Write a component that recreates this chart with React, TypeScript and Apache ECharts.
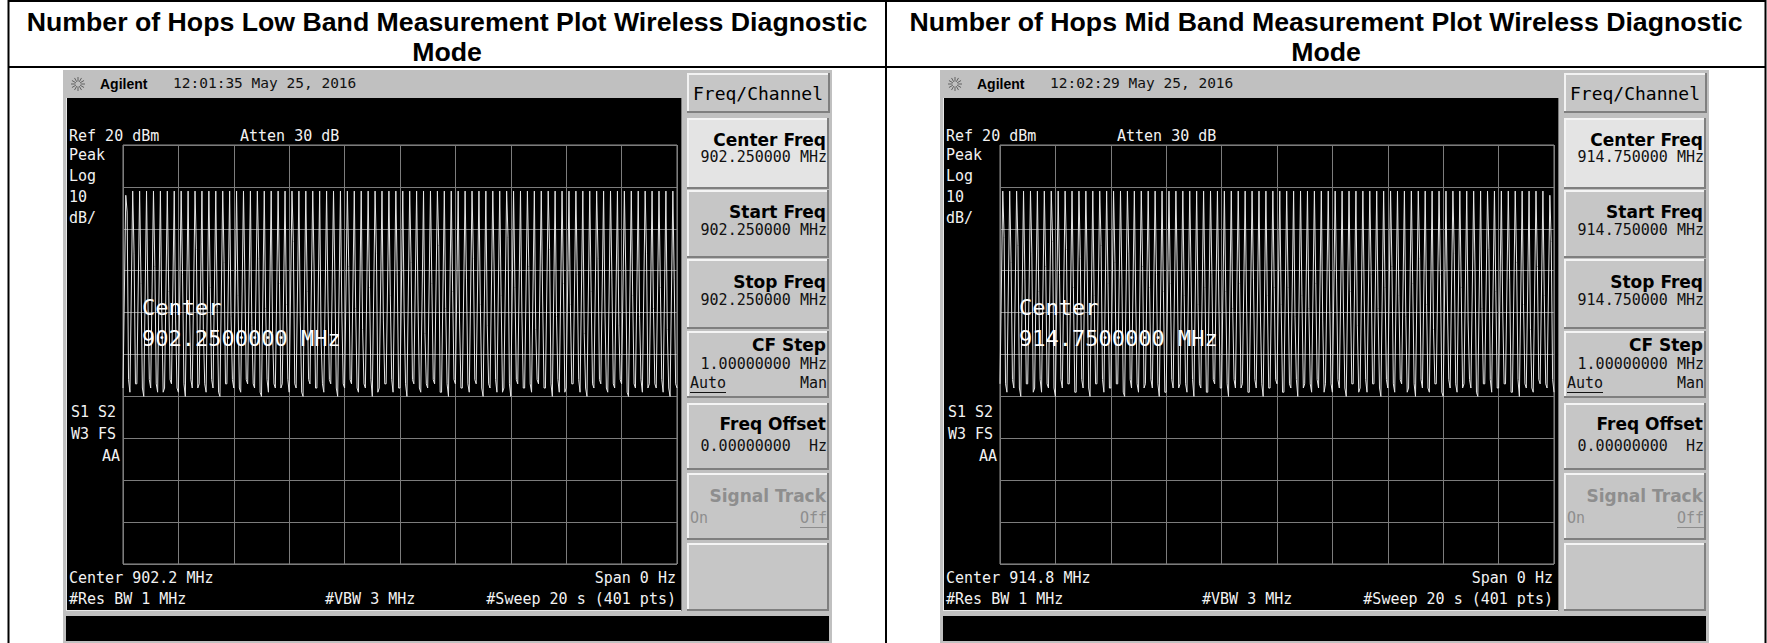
import React, { useEffect, useRef } from "react";
import * as echarts from "echarts";

const W = 1767;
const H = 643;

// ---- text content ----
const titleLines = [
  ["Number of Hops Low Band Measurement Plot Wireless Diagnostic", "Mode"],
  ["Number of Hops Mid Band Measurement Plot Wireless Diagnostic", "Mode"],
];
const timestamps = ["12:01:35 May 25, 2016", "12:02:29 May 25, 2016"];
const centerShort = ["Center 902.2 MHz", "Center 914.8 MHz"];
const centerLong = ["902.2500000 MHz", "914.7500000 MHz"];
const freqValues = ["902.250000 MHz", "914.750000 MHz"];

// ---- axis settings (Ref 20 dBm, 10 dB/div, 401 pts sweep) ----
const yMin = -80;
const yMax = 20;
const yStep = 10;
const xMin = 0;
const xMax = 400;
const xStep = 40;
const samplesPerHop = 5;

// ---- Low band trace (dBm), one entry per hop ----
const lowPeaks = [
  8, 9, 9, 9, 9, 9, 9, 9,
  9, 9, 9, 9, 9, 9, 9, 9,
  9, 9, 9, 9, 9, 9, 9, 9,
  9, 9, 9, 9, 9, 9, 9, 9,
  9, 9, 9, 9, 9, 9, 9, 9,
  9, 9, 9, 9, 9, 9, 9, 9,
  9, 9, 9, 9, 9, 9, 9, 9,
  9, 9, 9, 9, 9, 9, 9, 9,
  9, 9, 9, 9, 9, 9, 9, 9,
  9, 9, 9, 9, 9, 9, 9, 9,
];
const lowKnees = [
  4, -6, -13, -17, -9, -20, -15, -22,
  -11, -18, -5, -24, -14, -19, -8, -21,
  -16, -12, -23, -7, -19, -25, -13, -18,
  -3, -21, -15, -10, -26, -17, -12, -20,
  -9, -19, -24, -14, -6, -22, -16, -11,
  -20, -8, -17, -25, -13, -4, -19, -15,
  -22, -12, -7, -18, -23, -10, -16, -2,
  -14, -20, -9, -24, -17, -5, -21, -13,
  -18, -11, -25, -15, -7, -20, -12, -23,
  -10, -16, -21, -6, -19, -14, -24, -12,
];
const lowFloorsA = [
  -38, -39, -37, -40, -38, -39, -38, -37,
  -39, -40, -38, -37, -39, -38, -40, -37,
  -38, -39, -37, -38, -40, -39, -38, -37,
  -39, -38, -40, -37, -38, -39, -37, -40,
  -38, -37, -39, -38, -40, -38, -37, -39,
  -38, -40, -37, -39, -38, -37, -39, -40,
  -37, -38, -39, -37, -40, -38, -39, -38,
  -40, -37, -38, -39, -37, -38, -40, -39,
  -38, -37, -39, -40, -38, -37, -39, -38,
  -37, -40, -38, -39, -37, -38, -39, -40,
  -38,
];
const lowFloorsB = [
  -36, -37, -38, -36, -37, -39, -36, -38,
  -37, -36, -38, -37, -36, -39, -37, -36,
  -38, -36, -37, -39, -36, -37, -38, -36,
  -37, -39, -36, -38, -37, -36, -38, -37,
  -36, -38, -37, -36, -39, -37, -36, -38,
  -37, -36, -38, -37, -36, -39, -37, -36,
  -38, -37, -36, -38, -37, -36, -39, -37,
  -36, -38, -37, -36, -38, -37, -36, -39,
  -37, -36, -38, -37, -36, -38, -37, -36,
  -39, -37, -36, -38, -37, -36, -38, -37,
];

// ---- Mid band trace (dBm), one entry per hop ----
const midPeaks = [
  9, 9, 9, 9, 9, 9, 9, 9,
  9, 9, 9, 9, 9, 9, 9, 9,
  9, 9, 9, 9, 9, 9, 9, 9,
  9, 9, 9, 9, 9, 9, 9, 9,
  9, 9, 9, 9, 9, 9, 9, 9,
  9, 9, 9, 9, 9, 9, 9, 9,
  9, 9, 9, 9, 9, 9, 9, 9,
  9, 9, 9, 9, 9, 9, 9, 9,
  9, 9, 9, 9, 9, 9, 9, 9,
  9, 9, 9, 9, 9, 9, 9, 8,
];
const midKnees = [
  -2, -8, -4, -12, -6, -15, -9, -3,
  -11, -5, -14, -7, -10, -16, -4, -13,
  -8, -12, -6, -17, -9, -14, -11, -15,
  -13, -10, -16, -12, -18, -14, -11, -17,
  -15, -19, -13, -17, -12, -20, -16, -14,
  -18, -14, -21, -16, -19, -13, -22, -17,
  -12, -20, -15, -23, -17, -11, -19, -14,
  -9, -16, -21, -13, -7, -18, -24, -11,
  -17, -6, -14, -22, -10, -19, -5, -15,
  -20, -12, -8, -18, -24, -9, -16, -3,
];
const midFloorsA = [
  -37, -39, -38, -40, -37, -38, -39, -38,
  -40, -38, -37, -39, -38, -40, -37, -39,
  -38, -37, -40, -38, -39, -37, -38, -40,
  -39, -38, -37, -39, -40, -38, -39, -37,
  -38, -40, -38, -37, -39, -38, -40, -38,
  -37, -39, -38, -40, -37, -39, -38, -37,
  -39, -38, -40, -37, -38, -39, -37, -40,
  -38, -39, -37, -38, -40, -38, -39, -37,
  -40, -38, -39, -37, -38, -40, -37, -39,
  -38, -37, -39, -40, -38, -39, -37, -38,
  -39,
];
const midFloorsB = [
  -37, -36, -38, -37, -39, -36, -37, -38,
  -36, -37, -39, -36, -38, -37, -36, -38,
  -37, -39, -36, -37, -38, -36, -37, -39,
  -36, -38, -37, -36, -37, -39, -36, -38,
  -37, -36, -38, -39, -36, -37, -38, -36,
  -39, -37, -36, -38, -37, -36, -39, -37,
  -36, -38, -37, -39, -36, -37, -38, -36,
  -37, -36, -39, -37, -36, -38, -37, -39,
  -36, -37, -38, -36, -39, -37, -36, -38,
  -37, -39, -36, -37, -38, -36, -37, -36,
];

// each hop: rise from the floor to the peak, drop to a knee, then back to the floor
function buildTrace(peaks: number[], knees: number[], floorsA: number[], floorsB: number[]) {
  const pts: number[][] = [];
  peaks.forEach((p, i) => {
    const s = i * samplesPerHop;
    pts.push([s, floorsA[i]]);
    pts.push([s + 2, p]);
    pts.push([s + 3, knees[i]]);
    pts.push([s + 4, floorsB[i]]);
  });
  pts.push([peaks.length * samplesPerHop, floorsA[peaks.length]]);
  return pts;
}

const MONO = '"DejaVu Sans Mono", "Liberation Mono", monospace';
const SANS = '"DejaVu Sans", "Liberation Sans", sans-serif';
const ARIAL = '"Liberation Sans", Arial, sans-serif';

function screenGraphics(dx: number, idx: number) {
  const els: any[] = [];
  const rect = (x: number, y: number, w: number, h: number, fill: string, z = -10) =>
    els.push({
      type: "rect",
      silent: true,
      z,
      shape: { x: x + dx, y, width: w, height: h },
      style: { fill },
    });
  const text = (x: number, y: number, str: string, font: string, fill: string, align = "left", z = 10) =>
    els.push({
      type: "text",
      silent: true,
      z,
      x: x + dx,
      y,
      style: {
        text: str,
        font,
        fill,
        textAlign: align,
        align,
        textVerticalAlign: "middle",
        verticalAlign: "middle",
      },
    });
  const line = (x1: number, y1: number, x2: number, y2: number, color: string, z = 10, w = 1) =>
    els.push({
      type: "line",
      silent: true,
      z,
      shape: { x1: x1 + dx, y1, x2: x2 + dx, y2 },
      style: { stroke: color, lineWidth: w },
    });

  // panel
  rect(63, 70, 769, 580, "#c0c0c0", -20);
  // main black screen
  rect(66, 98, 615, 513, "#000000", -15);
  line(66.5, 98, 66.5, 611, "#e8e8e8", -14);
  line(66, 610.5, 681, 610.5, "#e8e8e8", -14);
  line(681.5, 98, 681.5, 611, "#7a7a7a", -14);
  // message bar
  rect(66, 616, 763, 25, "#000000", -15);

  // header: Agilent spark logo
  const cx = 78;
  const cy = 84;
  for (let k = 0; k < 12; k++) {
    const a = (k * Math.PI) / 6;
    line(cx + 2.5 * Math.cos(a), cy + 2.5 * Math.sin(a), cx + 7 * Math.cos(a), cy + 7 * Math.sin(a), "#606060", 10, 1);
  }
  text(100, 84, "Agilent", `bold 14px ${ARIAL}`, "#000000");
  text(173, 83, timestamps[idx], `14.5px ${MONO}`, "#111111");

  // screen annotations
  const tf = `15px ${MONO}`;
  const tc = "#f2f2f2";
  text(69, 136, "Ref 20 dBm", tf, tc);
  text(240, 136, "Atten 30 dB", tf, tc);
  text(69, 155, "Peak", tf, tc);
  text(69, 176, "Log", tf, tc);
  text(69, 197, "10", tf, tc);
  text(69, 218, "dB/", tf, tc);
  text(71, 412, "S1 S2", tf, tc);
  text(71, 434, "W3 FS", tf, tc);
  text(120, 456, "AA", tf, tc, "right");
  text(69, 578, centerShort[idx], tf, tc);
  text(676, 578, "Span 0 Hz", tf, tc, "right");
  text(69, 599, "#Res BW 1 MHz", tf, tc);
  text(325, 599, "#VBW 3 MHz", tf, tc);
  text(676, 599, "#Sweep 20 s (401 pts)", tf, tc, "right");

  // big centre annotation, drawn over the trace
  text(142, 307, "Center", `22px ${MONO}`, "#ffffff", "left", 100);
  text(142, 338, centerLong[idx], `22px ${MONO}`, "#ffffff", "left", 100);

  // softkey menu header
  rect(687, 73, 143, 40, "#7f7f7f", -12);
  rect(687, 73, 141, 38, "#f2f2f2", -11);
  rect(689, 75, 139, 36, "#c6c6c6", -10);
  text(758, 93, "Freq/Channel", `18px ${MONO}`, "#000000", "center");

  const keys = [
    { y: 118, h: 71, title: "Center Freq", ty: 140, value: freqValues[idx], vy: 157, base: "#e4e4e4" },
    { y: 190, h: 68, title: "Start Freq", ty: 212, value: freqValues[idx], vy: 230, base: "#c6c6c6" },
    { y: 259, h: 70, title: "Stop Freq", ty: 282, value: freqValues[idx], vy: 300, base: "#c6c6c6" },
    { y: 331, h: 67, title: "CF Step", ty: 345, value: "1.00000000 MHz", vy: 364, base: "#c6c6c6" },
    { y: 403, h: 67, title: "Freq Offset", ty: 424, value: "0.00000000  Hz", vy: 446, base: "#c6c6c6" },
    { y: 473, h: 67, title: "Signal Track", ty: 496, value: "", vy: 0, base: "#c6c6c6" },
    { y: 543, h: 68, title: "", ty: 0, value: "", vy: 0, base: "#c6c6c6" },
  ];
  keys.forEach((k) => {
    rect(687, k.y, 142, k.h, "#7f7f7f", -12);
    rect(687, k.y, 140, k.h - 2, "#f4f4f4", -11);
    rect(689, k.y + 2, 138, k.h - 4, k.base, -10);
    const dim = k.title === "Signal Track";
    if (k.title) text(826, k.ty, k.title, `bold 17px ${SANS}`, dim ? "#8e8e8e" : "#000000", "right");
    if (k.value) text(827, k.vy, k.value, `15px ${MONO}`, "#111111", "right");
  });
  // CF Step Auto/Man
  text(690, 383, "Auto", `15px ${MONO}`, "#111111");
  line(690, 392.5, 726, 392.5, "#111111");
  text(827, 383, "Man", `15px ${MONO}`, "#111111", "right");
  // Signal Track On/Off
  text(690, 518, "On", `15px ${MONO}`, "#8e8e8e");
  text(827, 518, "Off", `15px ${MONO}`, "#8e8e8e", "right");
  line(800, 527.5, 827, 527.5, "#8e8e8e");

  return els;
}

function tableGraphics() {
  const els: any[] = [];
  const line = (x1: number, y1: number, x2: number, y2: number) =>
    els.push({
      type: "line",
      silent: true,
      z: 20,
      shape: { x1, y1, x2, y2 },
      style: { stroke: "#000000", lineWidth: 2 },
    });
  line(8, 1, 1766, 1);
  line(8.5, 0, 8.5, H);
  line(1765.5, 0, 1765.5, H);
  line(886, 0, 886, H);
  line(8, 67, 1766, 67);
  const centers = [447, 1326];
  centers.forEach((cx, i) => {
    titleLines[i].forEach((t, j) => {
      els.push({
        type: "text",
        silent: true,
        z: 20,
        x: cx,
        y: 22 + j * 30,
        style: {
          text: t,
          font: `bold 26.7px ${ARIAL}`,
          fill: "#000000",
          textAlign: "center",
          align: "center",
          textVerticalAlign: "middle",
          verticalAlign: "middle",
        },
      });
    });
  });
  return els;
}

const DX = 877;

export default function App() {
  const ref = useRef<HTMLDivElement>(null);
  useEffect(() => {
    if (!ref.current) return;
    const chart = echarts.init(ref.current, undefined, { renderer: "svg", width: W, height: H });
    const traces = [
      buildTrace(lowPeaks, lowKnees, lowFloorsA, lowFloorsB),
      buildTrace(midPeaks, midKnees, midFloorsA, midFloorsB),
    ];
    const axisCommon = {
      axisLine: { show: false },
      axisTick: { show: false },
      axisLabel: { show: false },
      splitLine: { show: true, lineStyle: { color: "#7c7c7c", width: 1 } },
    };
    const option: any = {
      animation: false,
      backgroundColor: "#ffffff",
      grid: [0, 1].map((i) => ({
        left: 123 + i * DX,
        top: 145,
        width: 554,
        height: 419,
        show: true,
        borderColor: "#8e8e8e",
        borderWidth: 1,
        backgroundColor: "rgba(0,0,0,0)",
      })),
      xAxis: [0, 1].map((i) => ({
        gridIndex: i,
        type: "value",
        min: xMin,
        max: xMax,
        interval: xStep,
        ...axisCommon,
      })),
      yAxis: [0, 1].map((i) => ({
        gridIndex: i,
        type: "value",
        min: yMin,
        max: yMax,
        interval: yStep,
        ...axisCommon,
      })),
      series: traces.map((d, i) => ({
        type: "line",
        xAxisIndex: i,
        yAxisIndex: i,
        data: d,
        showSymbol: false,
        symbol: "none",
        silent: true,
        clip: true,
        lineStyle: { color: "#e6e6e6", width: 1 },
        z: 5,
      })),
      graphic: {
        elements: [...screenGraphics(0, 0), ...screenGraphics(DX, 1), ...tableGraphics()],
      },
    };
    chart.setOption(option);
    return () => chart.dispose();
  }, []);
  return (
    <div
      ref={ref}
      style={{ position: "absolute", left: 0, top: 0, width: W, height: H, background: "#ffffff" }}
    />
  );
}
